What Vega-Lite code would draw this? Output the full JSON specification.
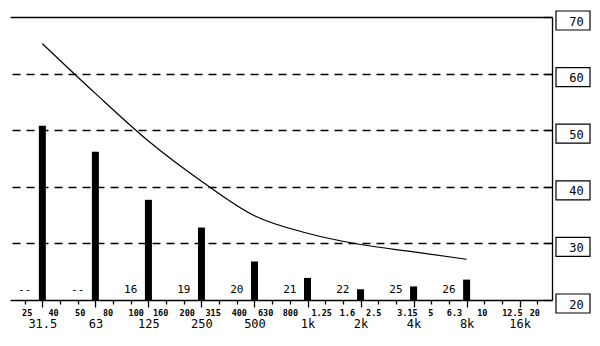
{
  "$schema": "https://vega.github.io/schema/vega-lite/v6.json",
  "width": 542,
  "height": 283,
  "padding": {"left": 10, "top": 8, "right": 0, "bottom": 0},
  "background": "white",
  "config": {"view": {"stroke": null}, "font": "DejaVu Sans Mono"},
  "datasets": {
    "octave": [
      {"band": "31.5", "level": 50.8, "curve": 65.3},
      {"band": "63", "level": 46.2, "curve": 56.5},
      {"band": "125", "level": 37.7, "curve": 48.1},
      {"band": "250", "level": 32.8, "curve": 41.0},
      {"band": "500", "level": 26.8, "curve": 34.9},
      {"band": "1k", "level": 23.9, "curve": 31.8},
      {"band": "2k", "level": 21.9, "curve": 29.8},
      {"band": "4k", "level": 22.4, "curve": 28.5},
      {"band": "8k", "level": 23.6, "curve": 27.2}
    ],
    "notes": [
      {"band": "25", "note": "--"},
      {"band": "50", "note": "--"},
      {"band": "100", "note": "16"},
      {"band": "200", "note": "19"},
      {"band": "400", "note": "20"},
      {"band": "800", "note": "21"},
      {"band": "1.6", "note": "22"},
      {"band": "3.15", "note": "25"},
      {"band": "6.3", "note": "26"}
    ],
    "levels": [{"v": 20}, {"v": 30}, {"v": 40}, {"v": 50}, {"v": 60}, {"v": 70}]
  },
  "layer": [
    {
      "data": {"name": "octave"},
      "mark": {"type": "bar", "width": 7, "color": "black"},
      "encoding": {
        "x": {
          "field": "band",
          "type": "ordinal",
          "scale": {
            "type": "point",
            "padding": 0.83,
            "domain": ["25","31.5","40","50","63","80","100","125","160","200","250","315","400","500","630","800","1k","1.25","1.6","2k","2.5","3.15","4k","5","6.3","8k","10","12.5","16k","20"]
          },
          "axis": {
            "title": null,
            "labelAngle": 0,
            "labelOverlap": false,
            "labelBound": false,
            "labelFlush": false,
            "domainColor": "black",
            "domainWidth": 1.5,
            "tickColor": "black",
            "tickWidth": 1.3,
            "labelColor": "black",
            "labelFont": "DejaVu Sans Mono",
            "labelBaseline": "top",
            "labelOffset": {"expr": "[2,0,-7,2,0,-5.5,5,0,-6,3,0,-6.5,2,0,-7,0,0,-4,4,0,-5,11,0,-1,5,0,-2.5,10,0,-3][indexof(['25','31.5','40','50','63','80','100','125','160','200','250','315','400','500','630','800','1k','1.25','1.6','2k','2.5','3.15','4k','5','6.3','8k','10','12.5','16k','20'], datum.value)]"},
            "tickSize": {"condition": {"test": "indexof(['31.5','63','125','250','500','1k','2k','4k','8k','16k'], datum.value) >= 0", "value": 7}, "value": 4},
            "labelPadding": {"condition": {"test": "indexof(['31.5','63','125','250','500','1k','2k','4k','8k','16k'], datum.value) >= 0", "value": 11}, "value": 4},
            "labelFontSize": {"condition": {"test": "indexof(['31.5','63','125','250','500','1k','2k','4k','8k','16k'], datum.value) >= 0", "value": 12}, "value": 8.5},
            "labelFontWeight": {"condition": {"test": "indexof(['31.5','63','125','250','500','1k','2k','4k','8k','16k'], datum.value) >= 0", "value": "normal"}, "value": "bold"}
          }
        },
        "y": {
          "field": "level",
          "type": "quantitative",
          "scale": {"domain": [20, 70], "zero": false, "nice": false},
          "axis": {
            "orient": "right",
            "title": null,
            "values": [20, 30, 40, 50, 60, 70],
            "grid": true,
            "gridColor": "black",
            "gridWidth": 1.5,
            "gridDash": {"condition": {"test": "datum.value == 70", "value": []}, "value": [8, 6]},
            "gridOpacity": {"condition": {"test": "datum.value == 20", "value": 0}, "value": 1},
            "domainColor": "black",
            "domainWidth": 1.3,
            "tickColor": "black",
            "tickWidth": 1.3,
            "tickSize": -9,
            "labelPadding": 33,
            "labelAlign": "center",
            "labelOffset": 4,
            "labelFlush": false,
            "labelFont": "DejaVu Sans Mono",
            "labelFontSize": 12,
            "labelColor": "black"
          }
        },
        "y2": {"datum": 20}
      }
    },
    {
      "data": {"name": "octave"},
      "mark": {"type": "line", "interpolate": "monotone", "color": "black", "strokeWidth": 1.2},
      "encoding": {
        "x": {"field": "band", "type": "ordinal"},
        "y": {"field": "curve", "type": "quantitative"}
      }
    },
    {
      "data": {"name": "notes"},
      "mark": {"type": "text", "font": "DejaVu Sans Mono", "fontSize": 11, "baseline": "middle", "dy": -10, "color": "black"},
      "encoding": {
        "x": {"field": "band", "type": "ordinal"},
        "y": {"datum": 20},
        "text": {"field": "note"}
      }
    },
    {
      "data": {"name": "levels"},
      "mark": {"type": "point", "shape": "M0.4,-0.6H3.8V1.3H0.4Z", "size": 400, "filled": false, "stroke": "black", "strokeWidth": 1.2, "opacity": 1},
      "encoding": {
        "x": {"value": "width"},
        "y": {"field": "v", "type": "quantitative"}
      }
    }
  ]
}
